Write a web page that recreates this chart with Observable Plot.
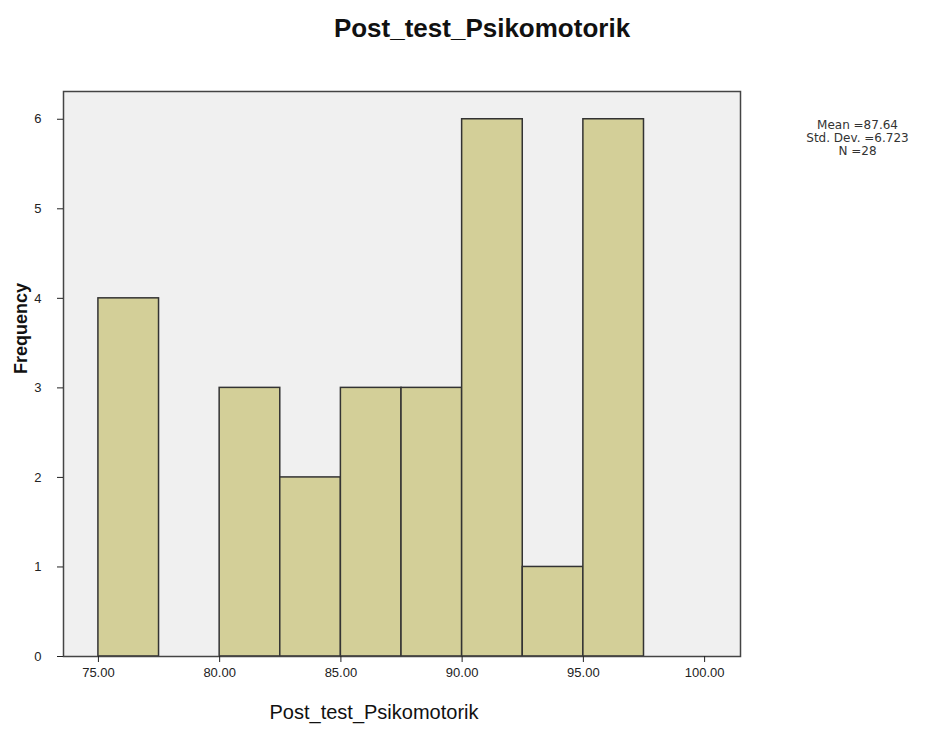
<!DOCTYPE html>
<html>
<head>
<meta charset="utf-8">
<script src="https://cdn.jsdelivr.net/npm/d3@7"></script>
<script src="https://cdn.jsdelivr.net/npm/@observablehq/plot@0.6"></script>
<style>
  body { margin: 0; background: #fff; font-family: Arial, "Liberation Sans", sans-serif; }
  #title { position: relative; height: 60px; width: 925px; }
  #title span { position: absolute; left: 482px; top: 13px; transform: translateX(-50%); font-size: 26px; font-weight: bold; color: #111; white-space: nowrap; }
  #chart svg { display: block; }
</style>
</head>
<body>
<div id="title"><span>Post_test_Psikomotorik</span></div>
<div id="chart"></div>
<script>
const binStarts = [75, 77.5, 80, 82.5, 85, 87.5, 90, 92.5, 95];
const binWidth = 2.5;
const counts = [4, 0, 3, 2, 3, 3, 6, 1, 6];
const xTicks = [75, 80, 85, 90, 95, 100];
const yTicks = [0, 1, 2, 3, 4, 5, 6];
const statsLines = ["Mean =87.64", "Std. Dev. =6.723", "N =28"];
const xLabel = "Post_test_Psikomotorik";
const yLabel = "Frequency";

const bins = binStarts.map((s, i) => ({x1: s, x2: s + binWidth, y: counts[i]})).filter(d => d.y > 0);

const chart = Plot.plot({
  width: 925,
  height: 671,
  marginLeft: 63,
  marginRight: 185,
  marginTop: 31,
  marginBottom: 75,
  style: {fontFamily: "Arial, 'Liberation Sans', sans-serif", fontSize: "13px", color: "#222", background: "#fff"},
  x: {domain: [73.56, 101.48], ticks: xTicks, tickFormat: d3.format(".2f"), label: null},
  y: {domain: [0, 6.31], ticks: yTicks, label: null},
  marks: [
    Plot.frame({fill: "#f0f0f0", stroke: "none"}),
    Plot.rect(bins, {x1: "x1", x2: "x2", y1: 0, y2: "y", fill: "#d3cf98", stroke: "#333", strokeWidth: 1.5}),
    Plot.frame({stroke: "#444", strokeWidth: 1.5}),
    Plot.axisX({ticks: xTicks, tickFormat: d3.format(".2f"), tickSize: 6, tickPadding: 5, fontSize: 13, label: null, stroke: "#222"}),
    Plot.axisY({ticks: yTicks, tickFormat: d3.format("d"), tickSize: 6, tickPadding: 16, fontSize: 13, label: null, stroke: "#222"}),
    Plot.text([xLabel], {frameAnchor: "bottom", dx: -28, dy: 62, text: d => d, fontSize: 20, fill: "#111", fontWeight: "500"}),
    Plot.text([yLabel], {frameAnchor: "left", dx: -42, rotate: -90, text: d => d, fontSize: 18, fontWeight: "bold", fill: "#111"}),
    Plot.text([statsLines.join("\n")], {frameAnchor: "top-right", dx: 117, dy: 28, text: d => d, fontSize: 12, fontFamily: "DejaVu Sans", lineHeight: 1.1, textAnchor: "middle", fill: "#333"})
  ]
});
document.getElementById("chart").appendChild(chart);
</script>
</body>
</html>
